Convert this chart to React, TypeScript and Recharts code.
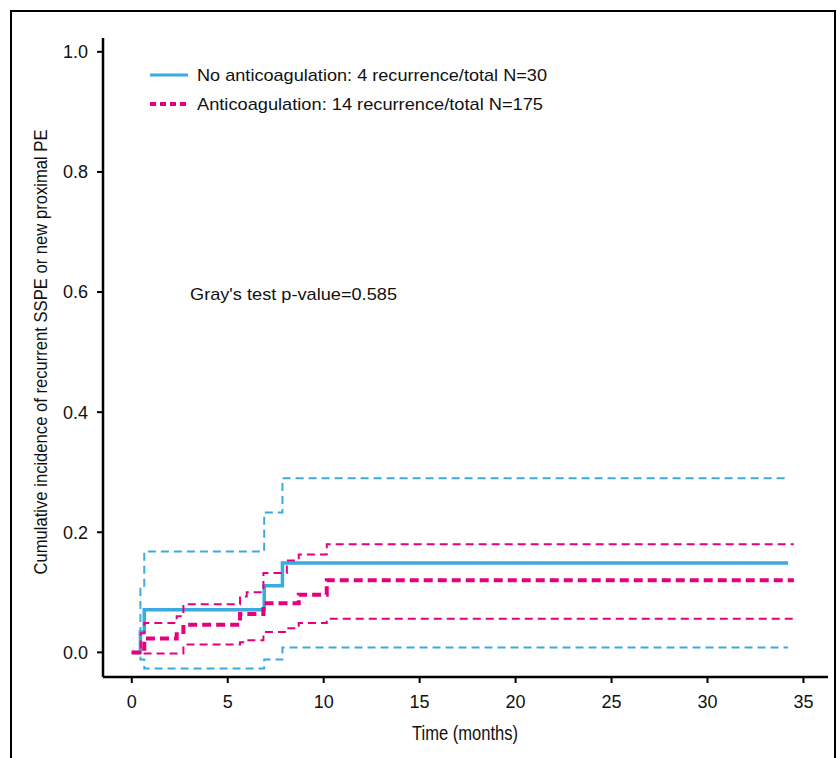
import { LineChart, Line, XAxis, YAxis } from 'recharts'

// time points (months) and cumulative incidence
const noAcTime = [0, 0.45, 0.65, 6.9, 7.85, 34.2]
const noAcEst = [0, 0.034, 0.071, 0.111, 0.149, 0.149]
const noAcUpper = [0, 0.106, 0.168, 0.233, 0.29, 0.29]
const noAcLower = [0, -0.012, -0.027, -0.012, 0.008, 0.008]

const acTime = [0, 0.47, 0.65, 2.34, 2.69, 5.64, 5.99, 6.86, 8.08, 8.7, 10.16, 34.5]
const acEst = [0, 0.006, 0.023, 0.034, 0.046, 0.064, 0.064, 0.082, 0.082, 0.096, 0.12, 0.12]
const acUpper = [0, 0.032, 0.049, 0.06, 0.08, 0.093, 0.1, 0.132, 0.153, 0.163, 0.18, 0.18]
const acLower = [0, -0.002, -0.002, -0.002, 0.013, 0.017, 0.02, 0.034, 0.04, 0.049, 0.056, 0.056]

const xTicks = [0, 5, 10, 15, 20, 25, 30, 35]
const yTicks = [0, 0.2, 0.4, 0.6, 0.8, 1.0]

const BLUE = '#3BAAE0'
const PINK = '#E5007E'
const FONT = '"Liberation Sans", Arial, Helvetica, sans-serif'
const NARROW = '"Liberation Sans Narrow", ' + FONT

const legendItems = [
  { label: 'No anticoagulation: 4 recurrence/total N=30', color: BLUE, dash: undefined, width: 3, len: 350 },
  { label: 'Anticoagulation: 14 recurrence/total N=175', color: PINK, dash: '6 4', width: 4, len: 346 },
]

const noAcRows = noAcTime.map((t, i) => ({ t, est: noAcEst[i], lo: noAcLower[i], hi: noAcUpper[i] }))
const acRows = acTime.map((t, i) => ({ t, est: acEst[i], lo: acLower[i], hi: acUpper[i] }))

export default function App() {
  return (
    <div style={{ position: 'fixed', left: 0, top: 0, width: 837, height: 758, background: '#fff' }}>
      <LineChart width={837} height={758} margin={{ top: 38, right: 9, bottom: 41, left: 43 }}>
        <XAxis
          type="number"
          dataKey="t"
          domain={[-1.5, 36.28]}
          ticks={xTicks}
          allowDataOverflow
          height={40}
          axisLine={{ stroke: '#000', strokeWidth: 2.5 }}
          tickLine={{ stroke: '#000', strokeWidth: 2 }}
          tickSize={6}
          tickMargin={12}
          tick={{ fontSize: 18, fill: '#111', fontFamily: FONT }}
        />
        <YAxis
          type="number"
          domain={[-0.041, 1.023]}
          ticks={yTicks}
          allowDataOverflow
          width={60}
          tickFormatter={(v: number) => v.toFixed(1)}
          axisLine={{ stroke: '#000', strokeWidth: 2.5 }}
          tickLine={{ stroke: '#000', strokeWidth: 2 }}
          tickSize={6}
          tickMargin={9}
          tick={{ fontSize: 18, fill: '#111', fontFamily: FONT }}
        />
        <Line data={noAcRows} dataKey="hi" type="stepAfter" stroke={BLUE} strokeWidth={2} strokeDasharray="8 5" dot={false} isAnimationActive={false} />
        <Line data={noAcRows} dataKey="lo" type="stepAfter" stroke={BLUE} strokeWidth={2} strokeDasharray="8 5" dot={false} isAnimationActive={false} />
        <Line data={noAcRows} dataKey="est" type="stepAfter" stroke={BLUE} strokeWidth={3.5} dot={false} isAnimationActive={false} />
        <Line data={acRows} dataKey="hi" type="stepAfter" stroke={PINK} strokeWidth={2} strokeDasharray="8 5" dot={false} isAnimationActive={false} />
        <Line data={acRows} dataKey="lo" type="stepAfter" stroke={PINK} strokeWidth={2} strokeDasharray="8 5" dot={false} isAnimationActive={false} />
        <Line data={acRows} dataKey="est" type="stepAfter" stroke={PINK} strokeWidth={4} strokeDasharray="9 5" dot={false} isAnimationActive={false} />
      </LineChart>
      <svg width={837} height={758} style={{ position: 'absolute', left: 0, top: 0, pointerEvents: 'none' }}>
        <rect x={11} y={11} width={824} height={800} fill="none" stroke="#000" strokeWidth={2} />
        {legendItems.map((it, i) => (
          <g key={it.label}>
            <line x1={150} x2={188} y1={75 + i * 29} y2={75 + i * 29} stroke={it.color} strokeWidth={it.width} strokeDasharray={it.dash} />
            <text x={197} y={75 + i * 29} dy="0.35em" fontSize={17} fontFamily={FONT} fill="#111" textLength={it.len} lengthAdjust="spacingAndGlyphs">
              {it.label}
            </text>
          </g>
        ))}
        <text x={190} y={294} dy="0.35em" fontSize={17} fontFamily={FONT} fill="#111" textLength={207} lengthAdjust="spacingAndGlyphs">
          Gray's test p-value=0.585
        </text>
        <text
          x={40}
          y={352}
          transform="rotate(-90 40 352)"
          textAnchor="middle"
          dy="0.35em"
          fontSize={19}
          fontFamily={NARROW}
          textLength={445}
          lengthAdjust="spacingAndGlyphs"
          fill="#111"
        >
          Cumulative incidence of recurrent SSPE or new proximal PE
        </text>
        <text
          x={465}
          y={733}
          textAnchor="middle"
          dy="0.35em"
          fontSize={20}
          fontFamily={NARROW}
          textLength={106}
          lengthAdjust="spacingAndGlyphs"
          fill="#111"
        >
          Time (months)
        </text>
      </svg>
    </div>
  )
}
